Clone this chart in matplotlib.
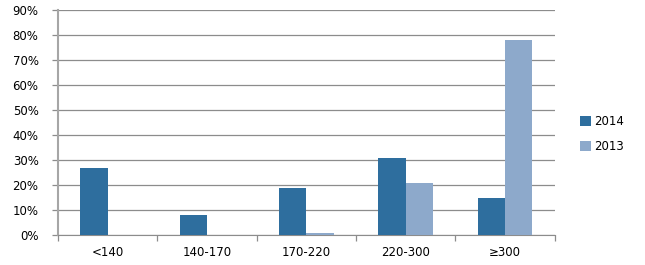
import numpy as np
import matplotlib.pyplot as plt
from matplotlib.ticker import FixedLocator, FuncFormatter

categories = ["<140", "140-170", "170-220", "220-300", "≥300"]
vals_2014 = [27, 8, 19, 31, 15]
vals_2013 = [0, 0, 1, 21, 78]
yticks = [0, 10, 20, 30, 40, 50, 60, 70, 80, 90]

c2014 = "#2E6E9E"
c2013 = "#8DA9CB"
grid_c = "#8C8C8C"

plt.rcParams["font.family"] = ["DejaVu Sans"]
plt.rcParams["font.size"] = 8.5

fig = plt.figure(figsize=(6.45, 2.65), dpi=100)
ax = fig.add_axes([0.09, 0.113, 0.77, 0.849])

x = np.arange(len(categories))
w = 0.275
ax.bar(x - w / 2, vals_2014, w, color=c2014, label="2014", zorder=3)
ax.bar(x + w / 2, vals_2013, w, color=c2013, label="2013", zorder=3)

ax.set_xlim(-0.5, len(categories) - 0.5)
ax.set_ylim(0, 90)
ax.set_yticks(yticks)
ax.yaxis.set_major_formatter(FuncFormatter(lambda v, p: f"{int(v)}%"))
ax.grid(axis="y", color=grid_c, linewidth=0.9, zorder=0)

# category boundaries as major ticks, labels on minor ticks
ax.xaxis.set_major_locator(FixedLocator(np.arange(-0.5, len(categories), 1.0)))
ax.xaxis.set_major_formatter(FuncFormatter(lambda v, p: ""))
ax.xaxis.set_minor_locator(FixedLocator(x))
ax.set_xticklabels(categories, minor=True)
ax.tick_params(axis="x", which="major", length=4, color=grid_c, width=0.9)
ax.tick_params(axis="x", which="minor", length=0, pad=8)
ax.tick_params(axis="y", length=4, color=grid_c, width=0.9, pad=10)

for s in ["top", "right"]:
    ax.spines[s].set_visible(False)
ax.spines["left"].set_color("#A6A6A6")
ax.spines["left"].set_linewidth(1.5)
ax.spines["bottom"].set_color(grid_c)

ax.legend(loc="center left", bbox_to_anchor=(1.03, 0.45), frameon=False,
          handlelength=0.9, handleheight=0.9, handletextpad=0.3, labelspacing=1.0)

fig.savefig("out.png", dpi=100)
